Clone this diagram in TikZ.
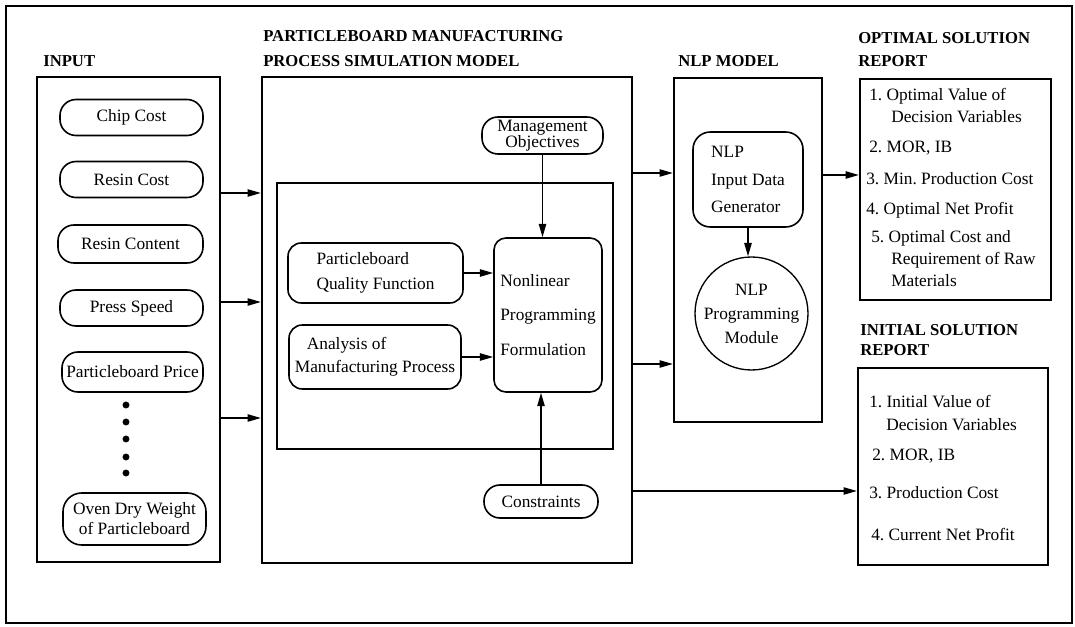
\documentclass[tikz,border=0pt]{standalone}
\usepackage{fontspec}
\setmainfont{Liberation Serif}
\usetikzlibrary{arrows.meta,fit}

\tikzset{
  frame/.style={draw, line width=1.7pt, inner sep=0pt},
  thinframe/.style={draw, line width=1.1pt, inner sep=0pt},
  pill/.style={draw, line width=1.2pt, rounded corners=12pt, minimum width=107.25pt, minimum height=27pt, inner sep=1pt, align=center},
  softbox/.style={draw, line width=1.2pt, rounded corners=10pt, inner sep=0pt, align=left},
  head/.style={anchor=base west, inner sep=0pt, font=\bfseries\fontsize{12.5}{15}\selectfont},
  item/.style={anchor=base west, inner sep=0pt},
  arr/.style={-{Triangle[length=10pt,width=5.5pt]}, line width=1.1pt}
}

\begin{document}
\begin{tikzpicture}[x=0.75pt, y=-0.75pt, font=\fontsize{13}{15.6}\selectfont]
  \useasboundingbox (0,0) rectangle (1075,627);
  \draw[frame] (6,6) rectangle (1072,623);

  % headings
  \node[head] (hinput) at (43,67) {INPUT};
  \node[head] (hproca) at (263,42) {PARTICLEBOARD MANUFACTURING};
  \node[head] (hprocb) at (263,67) {PROCESS SIMULATION MODEL};
  \node[head] (hnlp) at (678,67) {NLP MODEL};
  \node[head] (hopta) at (858,44) {OPTIMAL SOLUTION};
  \node[head] (hoptb) at (858,67) {REPORT};
  \node[head] (hinia) at (860,335) {INITIAL SOLUTION};
  \node[head] (hinib) at (860,355) {REPORT};

  % input column
  \node[frame, fit={(37,77) (220,562)}] (input) {};
  \node[pill] (chip) at (131.5,117.5) {Chip Cost};
  \node[pill] (resincost) at (131.5,179.5) {Resin Cost};
  \node[pill, minimum width=108.75pt, minimum height=28.5pt] (resincont) at (130.5,244) {Resin Content};
  \node[pill] (press) at (131.5,308) {Press Speed};
  \node[pill, minimum width=105.75pt, minimum height=30pt, inner sep=0pt] (price) at (132.5,372) {Particleboard Price};
  \foreach \y in {405,422,439,457,473}
    \fill (126,\y) circle (2.6pt);
  \node[pill, minimum height=39pt, rounded corners=14pt, font=\fontsize{13}{15}\selectfont] (oven) at (134.5,519) {Oven Dry Weight\\of Particleboard};

  % simulation model
  \node[frame, fit={(262,77) (632,563)}] (process) {};
  \node[thinframe, fit={(277,183) (613,449)}] (inner) {};
  \node[pill, minimum width=90.75pt, minimum height=27.75pt, inner sep=0pt, font=\fontsize{13}{12}\selectfont] (manage) at (542.5,135.5) {Management\\Objectives};
  \node[softbox, minimum width=131.25pt, minimum height=45pt, font=\fontsize{13}{18.75}\selectfont] (quality) at (375.5,273) {Particleboard\\Quality Function};
  \node[softbox, minimum width=129pt, minimum height=48pt, font=\fontsize{13}{17.25}\selectfont] (analysis) at (375,357) {\hspace{9pt}Analysis of\\Manufacturing Process};
  \node[softbox, rounded corners=9pt, minimum width=81pt, minimum height=115.5pt, font=\fontsize{13}{26}\selectfont] (nonlin) at (548,315) {Nonlinear\\Programming\\Formulation};
  \node[pill, minimum width=85.5pt, minimum height=24.75pt] (cons) at (541,501.5) {Constraints};

  \draw[arr] (manage.south) -- (manage.south |- nonlin.north);
  \draw[arr] (cons.north) -- (cons.north |- nonlin.south);
  \draw[arr] (quality.east) -- (nonlin.west |- quality.east);
  \draw[arr] (analysis.east) -- (nonlin.west |- analysis.east);

  % NLP model
  \node[frame, fit={(674,78) (822,422)}] (nlp) {};
  \node[softbox, rounded corners=13pt, minimum width=82.5pt, minimum height=71.25pt, font=\fontsize{13}{20.6}\selectfont] (gen) at (748,179.5) {NLP\\Input Data\\Generator};
  \node[draw, circle, line width=1pt, minimum size=84.75pt, inner sep=0pt, align=center, font=\fontsize{13}{18}\selectfont] (module) at (751.5,313.5) {NLP\\Programming\\Module};
  \draw[arr] (gen.south) -- (gen.south |- module.north);

  % reports
  \node[frame, fit={(860,79) (1051,300)}] (optimal) {};
  \node[item] (o1) at (869,101) {1.\ Optimal Value of};
  \node[item] (o1b) at (891,123) {Decision Variables};
  \node[item] (o2) at (869,153) {2.\ MOR,\ IB};
  \node[item] (o3) at (866,185) {3.\ Min.\ Production Cost};
  \node[item] (o4) at (866,215) {4.\ Optimal Net Profit};
  \node[item] (o5) at (871,243) {5.\ Optimal Cost and};
  \node[item] (o5b) at (891,265) {Requirement of Raw};
  \node[item] (o5c) at (891,287) {Materials};

  \node[frame, fit={(858,368) (1048,565)}] (initial) {};
  \node[item] (i1) at (869,407) {1.\ Initial Value of};
  \node[item] (i1b) at (886,430) {Decision Variables};
  \node[item] (i2) at (872,460) {2.\ MOR,\ IB};
  \node[item] (i3) at (869,498) {3.\ Production Cost};
  \node[item] (i4) at (871,540) {4.\ Current Net Profit};

  % flow between the blocks
  \foreach \y in {193,302,418}
    \draw[arr] (input.east |- 0,\y) -- (process.west |- 0,\y);
  \draw[arr] (process.east |- 0,173) -- (nlp.west |- 0,173);
  \draw[arr] (process.east |- 0,364) -- (nlp.west |- 0,364);
  \draw[arr] (nlp.east |- 0,175) -- (optimal.west |- 0,175);
  \draw[arr] (process.east |- 0,491) -- (initial.west |- 0,491);
\end{tikzpicture}
\end{document}
